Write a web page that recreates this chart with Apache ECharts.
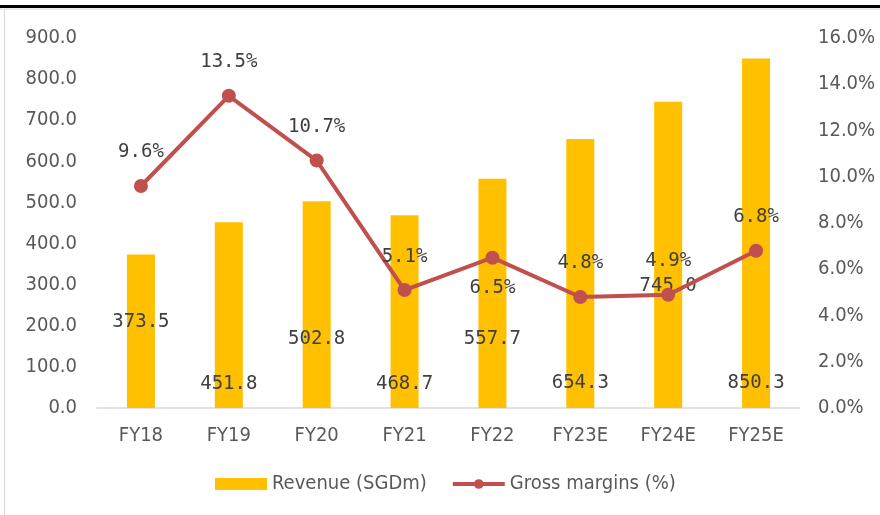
<!DOCTYPE html>
<html><head><meta charset="utf-8">
<script src="https://cdn.jsdelivr.net/npm/echarts@6/dist/echarts.min.js"></script>
<style>html,body{margin:0;padding:0;background:#fff}#c{width:880px;height:515px}</style>
</head><body><div id="c"></div>
<script>
var categories = ['FY18','FY19','FY20','FY21','FY22','FY23E','FY24E','FY25E'];
var revenue = [373.5, 451.8, 502.8, 468.7, 557.7, 654.3, 745.0, 850.3];
var margins = [9.6, 13.5, 10.7, 5.1, 6.5, 4.8, 4.9, 6.8];
var leftTicks = [0, 900, 100];
var rightTicks = [0, 16, 2];

// label placement (distance from bar base), as in the reference
var barLabelDist = [76, 14, 59, 14, 59, 15, 112, 15];
var lineLabelPos = ['top','top','top','top','bottom','top','top','top'];

var chart = echarts.init(document.getElementById('c'));
var txt = '#595959';
var axFont = 'DejaVu Sans Condensed';
chart.setOption({
  animation: false,
  graphic: [
    {type:'rect', shape:{x:0,y:5,width:880,height:3}, style:{fill:'#000'}},
    {type:'line', shape:{x1:0,y1:9,x2:880,y2:9}, style:{stroke:'#d9d9d9',lineWidth:1}},
    {type:'line', shape:{x1:4.5,y1:9,x2:4.5,y2:515}, style:{stroke:'#d9d9d9',lineWidth:1}}
  ],
  grid: {left: 97, right: 80, top: 38, bottom: 107},
  legend: {
    bottom: 16, left: 210, itemGap: 24, itemWidth: 52, itemHeight: 12,
    textStyle: {color: txt, fontSize: 20, fontFamily: axFont},
    data: [
      {name: 'Revenue (SGDm)', icon: 'rect'},
      {name: 'Gross margins (%)', lineStyle: {width: 4}}
    ]
  },
  xAxis: {
    type: 'category', data: categories,
    axisLine: {lineStyle: {color: '#d9d9d9', width: 1.5}},
    axisTick: {show: false},
    axisLabel: {color: txt, fontSize: 20, fontFamily: axFont, margin: 18}
  },
  yAxis: [
    {type: 'value', min: leftTicks[0], max: leftTicks[1], interval: leftTicks[2],
     splitLine: {show: false}, axisLine: {show: false}, axisTick: {show: false},
     axisLabel: {color: txt, fontSize: 20, fontFamily: axFont, margin: 20,
                 formatter: function(v){return v.toFixed(1);}}},
    {type: 'value', min: rightTicks[0], max: rightTicks[1], interval: rightTicks[2],
     splitLine: {show: false}, axisLine: {show: false}, axisTick: {show: false},
     axisLabel: {color: txt, fontSize: 20, fontFamily: axFont, margin: 18,
                 formatter: function(v){return v.toFixed(1) + '%';}}}
  ],
  series: [
    {
      name: 'Revenue (SGDm)', type: 'bar', barWidth: 28,
      itemStyle: {color: '#FFC000'},
      data: revenue.map(function(v, i){
        return {value: v, label: {show: true, position: 'insideBottom', distance: barLabelDist[i]}};
      }),
      label: {color: '#404040', fontSize: 19, fontFamily: 'DejaVu Sans Mono',
              formatter: function(p){return p.value.toFixed(1);}}
    },
    {
      name: 'Gross margins (%)', type: 'line', yAxisIndex: 1,
      symbol: 'circle', symbolSize: 14,
      lineStyle: {color: '#C0504D', width: 4},
      itemStyle: {color: '#C0504D'},
      data: margins.map(function(v, i){
        return {value: v, label: {show: true, position: lineLabelPos[i], distance: lineLabelPos[i]==='top'?17:14}};
      }),
      label: {color: '#404040', fontSize: 19, fontFamily: 'DejaVu Sans Mono',
              formatter: function(p){return p.value.toFixed(1) + '%';}},
      z: 5
    }
  ]
});
</script></body></html>
